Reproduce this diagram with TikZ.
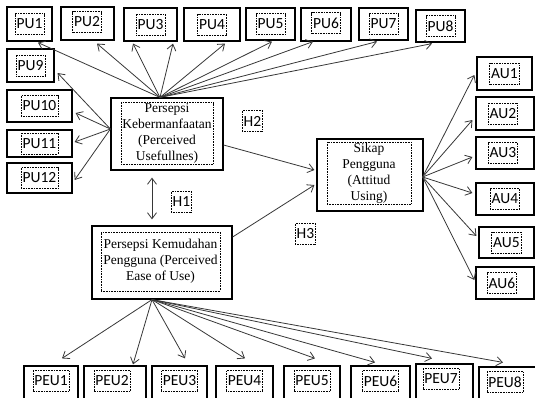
\documentclass[tikz,border=0pt]{standalone}
\usepackage{fontspec}
\setmainfont{Liberation Serif}
\newfontfamily\labelfont{Carlito}
\usetikzlibrary{arrows.meta,calc}
\definecolor{LineGray}{RGB}{55,55,55}

\begin{document}
\begin{tikzpicture}[x=1pt,y=-1pt,
  box/.style={draw=black,line width=1.2pt,inner sep=0pt},
  tag/.style={draw=black,densely dotted,line width=0.6pt,inner xsep=1.5pt,minimum height=21pt,font=\labelfont\fontsize{15.5}{18}\selectfont},
  txt/.style={draw=black,densely dotted,line width=0.6pt,inner sep=1pt,align=center,font=\fontsize{13.5}{16}\selectfont},
  arr/.style={LineGray,line width=0.8pt,-{Straight Barb[length=6pt,width=9pt]}}]
\clip (0,0) rectangle (535,397);
% main constructs
\node[box,minimum width=112,minimum height=72] (keb) at (167,134){};
\node[txt,minimum width=92,minimum height=61] (kebt) at (167,133.5){Persepsi\\Kebermanfaatan\\(Perceived\\Usefullnes)};
\node[box,minimum width=140,minimum height=73] (kem) at (162,262.5){};
\node[txt,minimum width=119,minimum height=59] (kemt) at (160.5,261.5){Persepsi Kemudahan\\Pengguna (Perceived\\Ease of Use)};
\node[box,minimum width=106,minimum height=72] (sik) at (370,175){};
\node[txt,minimum width=84,minimum height=60] (sikt) at (369,173){Sikap\\Pengguna\\(Attitud\\Using)};
% hypotheses
\node[tag] (h1) at (181.5,202){H1};
\node[tag] (h2) at (252.5,121){H2};
\node[tag] (h3) at (305.5,234){H3};
% indicators PU
\node[box,minimum width=45,minimum height=34] (pu1) at (29.5,24){};\node[tag] (pu1t) at (pu1){PU1};
\node[box,minimum width=53,minimum height=33] (pu2) at (87.5,23.5){};\node[tag] (pu2t) at (87,22){PU2};
\node[box,minimum width=53,minimum height=33] (pu3) at (150.5,24.5){};\node[tag] (pu3t) at (pu3){PU3};
\node[box,minimum width=56,minimum height=33] (pu4) at (212,24.5){};\node[tag] (pu4t) at (pu4){PU4};
\node[box,minimum width=49,minimum height=32] (pu5) at (270.5,24){};\node[tag] (pu5t) at (pu5){PU5};
\node[box,minimum width=50,minimum height=33] (pu6) at (326,24.5){};\node[tag] (pu6t) at (326,23){PU6};
\node[box,minimum width=49,minimum height=32] (pu7) at (383.5,24){};\node[tag] (pu7t) at (pu7){PU7};
\node[box,minimum width=49,minimum height=32] (pu8) at (440.5,26){};\node[tag] (pu8t) at (pu8){PU8};
\node[box,minimum width=47,minimum height=33] (pu9) at (30.5,65.5){};\node[tag] (pu9t) at (pu9){PU9};
\node[box,minimum width=65,minimum height=32] (pu10) at (39.5,106){};\node[tag] (pu10t) at (pu10){PU10};
\node[box,minimum width=65,minimum height=27] (pu11) at (39.5,143.5){};\node[tag] (pu11t) at (pu11){PU11};
\node[box,minimum width=65,minimum height=30] (pu12) at (39.5,178){};\node[tag] (pu12t) at (pu12){PU12};
% indicators AU
\node[box,minimum width=55,minimum height=33] (au1) at (504.5,73.5){};\node[tag] (au1t) at (au1){AU1};
\node[box,minimum width=58,minimum height=33] (au2) at (505,113.5){};\node[tag] (au2t) at (503,113.5){AU2};
\node[box,minimum width=58,minimum height=32] (au3) at (505,153){};\node[tag] (au3t) at (503,153){AU3};
\node[box,minimum width=58,minimum height=32] (au4) at (505,199){};\node[tag] (au4t) at (505,199){AU4};
\node[box,minimum width=55,minimum height=31] (au5) at (506.5,242.5){};\node[tag] (au5t) at (au5){AU5};
\node[box,minimum width=58,minimum height=32] (au6) at (505,283){};\node[tag] (au6t) at (502,283){AU6};
% indicators PEU
\node[box,minimum width=54,minimum height=34] (peu1) at (51,383){};\node[tag] (peu1t) at (51,381){PEU1};
\node[box,minimum width=62,minimum height=34] (peu2) at (115,383){};\node[tag] (peu2t) at (112,381){PEU2};
\node[box,minimum width=55,minimum height=34] (peu3) at (179.5,383){};\node[tag] (peu3t) at (179.5,381){PEU3};
\node[box,minimum width=57,minimum height=34] (peu4) at (244.5,383){};\node[tag] (peu4t) at (244.5,381){PEU4};
\node[box,minimum width=56,minimum height=34] (peu5) at (312,383){};\node[tag] (peu5t) at (312,381){PEU5};
\node[box,minimum width=59,minimum height=34] (peu6) at (380.5,383){};\node[tag] (peu6t) at (380.5,381){PEU6};
\node[box,minimum width=57,minimum height=36] (peu7) at (444.5,382){};\node[tag] (peu7t) at (441,379){PEU7};
\node[box,minimum width=57,minimum height=34] (peu8) at (507.5,384){};\node[tag] (peu8t) at (505,382){PEU8};
% arrows
\coordinate (kebN) at ($(keb.north)+(-7,0)$);
\coordinate (kebW) at ($(keb.west)+(0,-5)$);
\coordinate (sikE) at ($(sik.east)+(-1,2)$);
\coordinate (kemS) at ($(kem.south)+(-10,0)$);
\draw[arr] (kebN) -- ($(pu1.south)+(8.5,1)$);
\draw[arr] (kebN) -- ($(pu2.south)+(9.5,3)$);
\draw[arr] (kebN) -- ($(pu3.south)+(-17.5,2)$);
\draw[arr] (kebN) -- ($(pu3.south)+(22.5,2)$);
\draw[arr] (kebN) -- ($(pu4.south)+(13,2)$);
\draw[arr] (kebN) -- ($(pu5.south)+(1.5,1)$);
\draw[arr] (kebN) -- ($(pu6.south)+(-13,0)$);
\draw[arr] (kebN) -- ($(pu7.south)+(-6.5,1)$);
\draw[arr] (kebN) -- ($(pu8.south)+(-8.5,1)$);
\draw[arr] (kebW) -- ($(pu9.east)+(3,7.5)$);
\draw[arr] (kebW) -- ($(pu10.east)+(3,7)$);
\draw[arr] (kebW) -- ($(pu11.east)+(2,-1.5)$);
\draw[arr] (kebW) -- ($(pu12.east)+(2,2)$);
\draw[arr] (sikE) -- ($(au1.west)+(-2,1.5)$);
\draw[arr] (sikE) -- ($(au2.west)+(-3,6.5)$);
\draw[arr] (sikE) -- ($(au3.west)+(-3,4)$);
\draw[arr] (sikE) -- ($(au4.west)+(-3,-6)$);
\draw[arr] (sikE) -- ($(au5.west)+(-2,-6.5)$);
\draw[arr] (sikE) -- ($(au6.west)+(-1,-3)$);
\draw[arr] (kemS) -- ($(peu1.north)+(11,-7)$);
\draw[arr] (kemS) -- ($(peu2.north)+(18,-1)$);
\draw[arr] (kemS) -- ($(peu3.north)+(5.5,-7)$);
\draw[arr] (kemS) -- ($(peu4.north)+(0.5,-7)$);
\draw[arr] (kemS) -- ($(peu5.north)+(3,-7)$);
\draw[arr] (kemS) -- ($(peu6.north)+(-5.5,-3)$);
\draw[arr] (kemS) -- ($(peu7.north)+(-12.5,-5)$);
\draw[arr] (kemS) -- ($(peu8.north)+(-4.5,-4)$);
\draw[arr] ($(keb.east)+(0,11)$) -- ($(sik.west)+(-2,-5)$);
\draw[arr] ($(kem.east)+(0,-25.5)$) -- ($(sik.west)+(-2,10)$);
\draw[arr,{Straight Barb[length=6pt,width=9pt]}-{Straight Barb[length=6pt,width=9pt]}] ($(keb.south)+(-15,7)$) -- ($(kem.north)+(-10,-6)$);
\end{tikzpicture}
\end{document}
